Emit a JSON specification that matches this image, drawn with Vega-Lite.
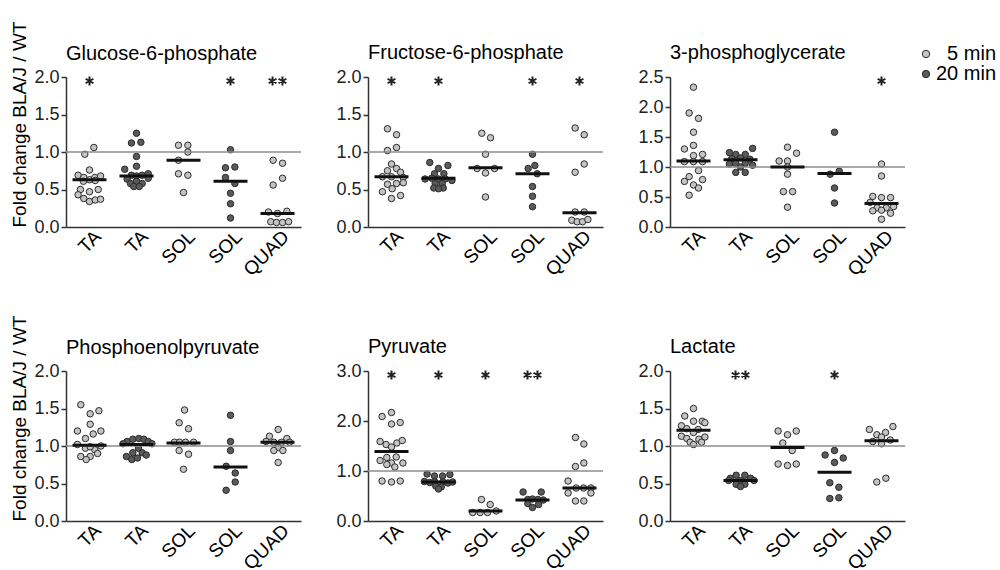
{
"$schema": "https://vega.github.io/schema/vega-lite/v6.json",
"padding": {"left": 10, "top": 21, "right": 5, "bottom": 5},
"background": "white",
"datasets": {
"grp": [{"g":"TA-5","t":"5 min"},{"g":"TA-20","t":"20 min"},{"g":"SOL-5","t":"5 min"},{"g":"SOL-20","t":"20 min"},{"g":"QUAD-5","t":"5 min"}],
"sig": [
{"m":"G6P","g":"TA-5","s":"*"},{"m":"G6P","g":"SOL-20","s":"*"},{"m":"G6P","g":"QUAD-5","s":"**"},
{"m":"F6P","g":"TA-5","s":"*"},{"m":"F6P","g":"TA-20","s":"*"},{"m":"F6P","g":"SOL-20","s":"*"},{"m":"F6P","g":"QUAD-5","s":"*"},
{"m":"3PG","g":"QUAD-5","s":"*"},
{"m":"PYR","g":"TA-5","s":"*"},{"m":"PYR","g":"TA-20","s":"*"},{"m":"PYR","g":"SOL-5","s":"*"},{"m":"PYR","g":"SOL-20","s":"**"},
{"m":"LAC","g":"TA-20","s":"**"},{"m":"LAC","g":"SOL-20","s":"*"}
],
"med": [
{"m":"G6P","g":"TA-5","v":0.63},{"m":"G6P","g":"TA-20","v":0.68},{"m":"G6P","g":"SOL-5","v":0.89},{"m":"G6P","g":"SOL-20","v":0.61},{"m":"G6P","g":"QUAD-5","v":0.18},
{"m":"F6P","g":"TA-5","v":0.67},{"m":"F6P","g":"TA-20","v":0.65},{"m":"F6P","g":"SOL-5","v":0.79},{"m":"F6P","g":"SOL-20","v":0.71},{"m":"F6P","g":"QUAD-5","v":0.19},
{"m":"3PG","g":"TA-5","v":1.10},{"m":"3PG","g":"TA-20","v":1.12},{"m":"3PG","g":"SOL-5","v":1.00},{"m":"3PG","g":"SOL-20","v":0.89},{"m":"3PG","g":"QUAD-5","v":0.39},
{"m":"PEP","g":"TA-5","v":1.01},{"m":"PEP","g":"TA-20","v":1.02},{"m":"PEP","g":"SOL-5","v":1.04},{"m":"PEP","g":"SOL-20","v":0.72},{"m":"PEP","g":"QUAD-5","v":1.05},
{"m":"PYR","g":"TA-5","v":1.39},{"m":"PYR","g":"TA-20","v":0.78},{"m":"PYR","g":"SOL-5","v":0.20},{"m":"PYR","g":"SOL-20","v":0.42},{"m":"PYR","g":"QUAD-5","v":0.66},
{"m":"LAC","g":"TA-5","v":1.21},{"m":"LAC","g":"TA-20","v":0.54},{"m":"LAC","g":"SOL-5","v":0.98},{"m":"LAC","g":"SOL-20","v":0.65},{"m":"LAC","g":"QUAD-5","v":1.07}
],
"pts": [
{"m":"G6P","g":"TA-5","v":1.06,"c":0.65},{"m":"G6P","g":"TA-5","v":0.97,"c":-0.7},{"m":"G6P","g":"TA-5","v":0.76,"c":0},{"m":"G6P","g":"TA-5","v":0.69,"c":-1.7},{"m":"G6P","g":"TA-5","v":0.66,"c":-0.85},{"m":"G6P","g":"TA-5","v":0.63,"c":0},{"m":"G6P","g":"TA-5","v":0.66,"c":0.8},{"m":"G6P","g":"TA-5","v":0.68,"c":1.65},{"m":"G6P","g":"TA-5","v":0.61,"c":-0.9},{"m":"G6P","g":"TA-5","v":0.62,"c":0.85},{"m":"G6P","g":"TA-5","v":0.50,"c":-1.35},{"m":"G6P","g":"TA-5","v":0.50,"c":1.3},{"m":"G6P","g":"TA-5","v":0.47,"c":0},{"m":"G6P","g":"TA-5","v":0.43,"c":-1.7},{"m":"G6P","g":"TA-5","v":0.38,"c":-0.85},{"m":"G6P","g":"TA-5","v":0.34,"c":0},{"m":"G6P","g":"TA-5","v":0.36,"c":0.85},{"m":"G6P","g":"TA-5","v":0.37,"c":1.65},
{"m":"G6P","g":"TA-20","v":1.25,"c":0},{"m":"G6P","g":"TA-20","v":1.12,"c":-0.75},{"m":"G6P","g":"TA-20","v":1.13,"c":0.65},{"m":"G6P","g":"TA-20","v":0.94,"c":0},{"m":"G6P","g":"TA-20","v":0.81,"c":0},{"m":"G6P","g":"TA-20","v":0.77,"c":-1.75},{"m":"G6P","g":"TA-20","v":0.69,"c":-0.75},{"m":"G6P","g":"TA-20","v":0.69,"c":0.85},{"m":"G6P","g":"TA-20","v":0.71,"c":1.75},{"m":"G6P","g":"TA-20","v":0.68,"c":0},{"m":"G6P","g":"TA-20","v":0.64,"c":-1.4},{"m":"G6P","g":"TA-20","v":0.65,"c":1.75},{"m":"G6P","g":"TA-20","v":0.61,"c":0},{"m":"G6P","g":"TA-20","v":0.58,"c":-0.9},{"m":"G6P","g":"TA-20","v":0.58,"c":0.85},{"m":"G6P","g":"TA-20","v":0.54,"c":-0.4},{"m":"G6P","g":"TA-20","v":0.54,"c":0.4},
{"m":"G6P","g":"SOL-5","v":1.09,"c":-0.75},{"m":"G6P","g":"SOL-5","v":1.09,"c":0.65},{"m":"G6P","g":"SOL-5","v":1.00,"c":0.65},{"m":"G6P","g":"SOL-5","v":0.89,"c":-0.75},{"m":"G6P","g":"SOL-5","v":0.71,"c":-0.75},{"m":"G6P","g":"SOL-5","v":0.69,"c":0.65},{"m":"G6P","g":"SOL-5","v":0.46,"c":0},
{"m":"G6P","g":"SOL-20","v":1.03,"c":0},{"m":"G6P","g":"SOL-20","v":0.79,"c":-0.75},{"m":"G6P","g":"SOL-20","v":0.80,"c":0.65},{"m":"G6P","g":"SOL-20","v":0.66,"c":-0.75},{"m":"G6P","g":"SOL-20","v":0.58,"c":0.65},{"m":"G6P","g":"SOL-20","v":0.45,"c":0},{"m":"G6P","g":"SOL-20","v":0.31,"c":0},{"m":"G6P","g":"SOL-20","v":0.12,"c":0},
{"m":"G6P","g":"QUAD-5","v":0.89,"c":-0.65},{"m":"G6P","g":"QUAD-5","v":0.85,"c":0.75},{"m":"G6P","g":"QUAD-5","v":0.65,"c":0.75},{"m":"G6P","g":"QUAD-5","v":0.56,"c":-0.65},{"m":"G6P","g":"QUAD-5","v":0.20,"c":-1.35},{"m":"G6P","g":"QUAD-5","v":0.18,"c":0},{"m":"G6P","g":"QUAD-5","v":0.21,"c":1.4},{"m":"G6P","g":"QUAD-5","v":0.07,"c":-1.0},{"m":"G6P","g":"QUAD-5","v":0.06,"c":-0.15},{"m":"G6P","g":"QUAD-5","v":0.06,"c":0.75},{"m":"G6P","g":"QUAD-5","v":0.07,"c":1.65},

{"m":"F6P","g":"TA-5","v":1.31,"c":-0.6},{"m":"F6P","g":"TA-5","v":1.23,"c":0.75},{"m":"F6P","g":"TA-5","v":1.06,"c":0.75},{"m":"F6P","g":"TA-5","v":1.02,"c":-0.6},{"m":"F6P","g":"TA-5","v":0.84,"c":0},{"m":"F6P","g":"TA-5","v":0.75,"c":-0.6},{"m":"F6P","g":"TA-5","v":0.78,"c":0.75},{"m":"F6P","g":"TA-5","v":0.73,"c":1.35},{"m":"F6P","g":"TA-5","v":0.67,"c":-1.35},{"m":"F6P","g":"TA-5","v":0.67,"c":0},{"m":"F6P","g":"TA-5","v":0.66,"c":1.75},{"m":"F6P","g":"TA-5","v":0.57,"c":-0.6},{"m":"F6P","g":"TA-5","v":0.58,"c":0.75},{"m":"F6P","g":"TA-5","v":0.59,"c":1.75},{"m":"F6P","g":"TA-5","v":0.47,"c":-1.35},{"m":"F6P","g":"TA-5","v":0.51,"c":0.1},{"m":"F6P","g":"TA-5","v":0.38,"c":0},{"m":"F6P","g":"TA-5","v":0.42,"c":1.35},
{"m":"F6P","g":"TA-20","v":0.86,"c":-1.3},{"m":"F6P","g":"TA-20","v":0.78,"c":0},{"m":"F6P","g":"TA-20","v":0.82,"c":1.4},{"m":"F6P","g":"TA-20","v":0.71,"c":-0.6},{"m":"F6P","g":"TA-20","v":0.71,"c":0.8},{"m":"F6P","g":"TA-20","v":0.64,"c":-2.0},{"m":"F6P","g":"TA-20","v":0.65,"c":-1.0},{"m":"F6P","g":"TA-20","v":0.64,"c":0},{"m":"F6P","g":"TA-20","v":0.64,"c":1.0},{"m":"F6P","g":"TA-20","v":0.62,"c":2.0},{"m":"F6P","g":"TA-20","v":0.58,"c":-0.5},{"m":"F6P","g":"TA-20","v":0.58,"c":0.55},{"m":"F6P","g":"TA-20","v":0.52,"c":-0.7},{"m":"F6P","g":"TA-20","v":0.52,"c":0.7},{"m":"F6P","g":"TA-20","v":0.51,"c":0},
{"m":"F6P","g":"SOL-5","v":1.25,"c":-0.55},{"m":"F6P","g":"SOL-5","v":1.19,"c":0.75},{"m":"F6P","g":"SOL-5","v":0.97,"c":0},{"m":"F6P","g":"SOL-5","v":0.78,"c":-1.25},{"m":"F6P","g":"SOL-5","v":0.78,"c":1.35},{"m":"F6P","g":"SOL-5","v":0.72,"c":0},{"m":"F6P","g":"SOL-5","v":0.40,"c":0},
{"m":"F6P","g":"SOL-20","v":0.97,"c":0},{"m":"F6P","g":"SOL-20","v":0.82,"c":0.35},{"m":"F6P","g":"SOL-20","v":0.78,"c":-0.65},{"m":"F6P","g":"SOL-20","v":0.71,"c":0.7},{"m":"F6P","g":"SOL-20","v":0.54,"c":0},{"m":"F6P","g":"SOL-20","v":0.41,"c":0},{"m":"F6P","g":"SOL-20","v":0.27,"c":0},
{"m":"F6P","g":"QUAD-5","v":1.32,"c":-0.65},{"m":"F6P","g":"QUAD-5","v":1.23,"c":0.7},{"m":"F6P","g":"QUAD-5","v":0.84,"c":0.7},{"m":"F6P","g":"QUAD-5","v":0.73,"c":-0.65},{"m":"F6P","g":"QUAD-5","v":0.20,"c":-0.65},{"m":"F6P","g":"QUAD-5","v":0.20,"c":0.7},{"m":"F6P","g":"QUAD-5","v":0.09,"c":-1.15},{"m":"F6P","g":"QUAD-5","v":0.07,"c":-0.35},{"m":"F6P","g":"QUAD-5","v":0.07,"c":0.45},{"m":"F6P","g":"QUAD-5","v":0.10,"c":1.25},

{"m":"3PG","g":"TA-5","v":2.33,"c":0},{"m":"3PG","g":"TA-5","v":1.90,"c":-0.65},{"m":"3PG","g":"TA-5","v":1.81,"c":0.75},{"m":"3PG","g":"TA-5","v":1.58,"c":0},{"m":"3PG","g":"TA-5","v":1.36,"c":0},{"m":"3PG","g":"TA-5","v":1.30,"c":-1.35},{"m":"3PG","g":"TA-5","v":1.19,"c":0},{"m":"3PG","g":"TA-5","v":1.21,"c":1.35},{"m":"3PG","g":"TA-5","v":1.09,"c":-1.35},{"m":"3PG","g":"TA-5","v":1.09,"c":0},{"m":"3PG","g":"TA-5","v":1.09,"c":1.35},{"m":"3PG","g":"TA-5","v":0.94,"c":0.75},{"m":"3PG","g":"TA-5","v":0.84,"c":-0.65},{"m":"3PG","g":"TA-5","v":0.76,"c":-1.35},{"m":"3PG","g":"TA-5","v":0.79,"c":1.35},{"m":"3PG","g":"TA-5","v":0.70,"c":0},{"m":"3PG","g":"TA-5","v":0.65,"c":0.75},{"m":"3PG","g":"TA-5","v":0.53,"c":-0.65},
{"m":"3PG","g":"TA-20","v":1.31,"c":1.8},{"m":"3PG","g":"TA-20","v":1.24,"c":-1.65},{"m":"3PG","g":"TA-20","v":1.21,"c":-0.7},{"m":"3PG","g":"TA-20","v":1.21,"c":0.7},{"m":"3PG","g":"TA-20","v":1.14,"c":-1.3},{"m":"3PG","g":"TA-20","v":1.15,"c":0},{"m":"3PG","g":"TA-20","v":1.13,"c":1.4},{"m":"3PG","g":"TA-20","v":1.05,"c":-1.65},{"m":"3PG","g":"TA-20","v":1.06,"c":-0.7},{"m":"3PG","g":"TA-20","v":1.06,"c":0.7},{"m":"3PG","g":"TA-20","v":1.03,"c":1.8},{"m":"3PG","g":"TA-20","v":1.00,"c":0},{"m":"3PG","g":"TA-20","v":0.91,"c":-0.7},{"m":"3PG","g":"TA-20","v":0.91,"c":0.7},
{"m":"3PG","g":"SOL-5","v":1.33,"c":0},{"m":"3PG","g":"SOL-5","v":1.23,"c":1.35},{"m":"3PG","g":"SOL-5","v":1.10,"c":-1.25},{"m":"3PG","g":"SOL-5","v":1.10,"c":0},{"m":"3PG","g":"SOL-5","v":1.00,"c":0},{"m":"3PG","g":"SOL-5","v":0.88,"c":0},{"m":"3PG","g":"SOL-5","v":0.59,"c":-0.6},{"m":"3PG","g":"SOL-5","v":0.59,"c":0.75},{"m":"3PG","g":"SOL-5","v":0.33,"c":0},
{"m":"3PG","g":"SOL-20","v":1.58,"c":0},{"m":"3PG","g":"SOL-20","v":0.93,"c":0.7},{"m":"3PG","g":"SOL-20","v":0.88,"c":-0.65},{"m":"3PG","g":"SOL-20","v":0.65,"c":0},{"m":"3PG","g":"SOL-20","v":0.40,"c":0},
{"m":"3PG","g":"QUAD-5","v":1.05,"c":0},{"m":"3PG","g":"QUAD-5","v":0.85,"c":0},{"m":"3PG","g":"QUAD-5","v":0.51,"c":-1.3},{"m":"3PG","g":"QUAD-5","v":0.49,"c":0},{"m":"3PG","g":"QUAD-5","v":0.49,"c":1.35},{"m":"3PG","g":"QUAD-5","v":0.41,"c":-1.7},{"m":"3PG","g":"QUAD-5","v":0.32,"c":-0.65},{"m":"3PG","g":"QUAD-5","v":0.32,"c":0.7},{"m":"3PG","g":"QUAD-5","v":0.34,"c":1.8},{"m":"3PG","g":"QUAD-5","v":0.27,"c":-1.3},{"m":"3PG","g":"QUAD-5","v":0.28,"c":0},{"m":"3PG","g":"QUAD-5","v":0.23,"c":1.35},{"m":"3PG","g":"QUAD-5","v":0.13,"c":0},

{"m":"PEP","g":"TA-5","v":1.55,"c":-1.3},{"m":"PEP","g":"TA-5","v":1.43,"c":0.1},{"m":"PEP","g":"TA-5","v":1.47,"c":1.4},{"m":"PEP","g":"TA-5","v":1.29,"c":0.1},{"m":"PEP","g":"TA-5","v":1.20,"c":-1.8},{"m":"PEP","g":"TA-5","v":1.20,"c":1.7},{"m":"PEP","g":"TA-5","v":1.16,"c":0.55},{"m":"PEP","g":"TA-5","v":1.10,"c":-0.6},{"m":"PEP","g":"TA-5","v":1.02,"c":-1.8},{"m":"PEP","g":"TA-5","v":0.97,"c":-0.6},{"m":"PEP","g":"TA-5","v":0.95,"c":0.8},{"m":"PEP","g":"TA-5","v":1.00,"c":1.7},{"m":"PEP","g":"TA-5","v":0.99,"c":0.1},{"m":"PEP","g":"TA-5","v":0.86,"c":-1.3},{"m":"PEP","g":"TA-5","v":0.86,"c":0.1},{"m":"PEP","g":"TA-5","v":0.90,"c":1.2},{"m":"PEP","g":"TA-5","v":0.82,"c":-0.5},
{"m":"PEP","g":"TA-20","v":1.06,"c":-1.4},{"m":"PEP","g":"TA-20","v":1.09,"c":-0.55},{"m":"PEP","g":"TA-20","v":1.10,"c":0.35},{"m":"PEP","g":"TA-20","v":1.09,"c":1.1},{"m":"PEP","g":"TA-20","v":1.06,"c":1.75},{"m":"PEP","g":"TA-20","v":1.03,"c":2.3},{"m":"PEP","g":"TA-20","v":1.03,"c":-2.0},{"m":"PEP","g":"TA-20","v":0.97,"c":0.3},{"m":"PEP","g":"TA-20","v":0.91,"c":-0.55},{"m":"PEP","g":"TA-20","v":0.91,"c":0.85},{"m":"PEP","g":"TA-20","v":0.88,"c":1.45},{"m":"PEP","g":"TA-20","v":0.86,"c":-1.5},{"m":"PEP","g":"TA-20","v":0.82,"c":-0.7},{"m":"PEP","g":"TA-20","v":0.84,"c":0.15},
{"m":"PEP","g":"SOL-5","v":1.48,"c":0.15},{"m":"PEP","g":"SOL-5","v":1.31,"c":-0.65},{"m":"PEP","g":"SOL-5","v":1.23,"c":0.75},{"m":"PEP","g":"SOL-5","v":1.05,"c":-1.35},{"m":"PEP","g":"SOL-5","v":1.05,"c":-0.6},{"m":"PEP","g":"SOL-5","v":1.05,"c":0.3},{"m":"PEP","g":"SOL-5","v":1.05,"c":1.5},{"m":"PEP","g":"SOL-5","v":0.94,"c":-0.65},{"m":"PEP","g":"SOL-5","v":0.89,"c":0.75},{"m":"PEP","g":"SOL-5","v":0.69,"c":0},
{"m":"PEP","g":"SOL-20","v":1.41,"c":0},{"m":"PEP","g":"SOL-20","v":1.06,"c":0},{"m":"PEP","g":"SOL-20","v":0.94,"c":0},{"m":"PEP","g":"SOL-20","v":0.73,"c":-0.65},{"m":"PEP","g":"SOL-20","v":0.64,"c":0.7},{"m":"PEP","g":"SOL-20","v":0.52,"c":0.7},{"m":"PEP","g":"SOL-20","v":0.41,"c":-0.65},
{"m":"PEP","g":"QUAD-5","v":1.22,"c":0.1},{"m":"PEP","g":"QUAD-5","v":1.13,"c":-1.2},{"m":"PEP","g":"QUAD-5","v":1.10,"c":1.4},{"m":"PEP","g":"QUAD-5","v":1.06,"c":-1.7},{"m":"PEP","g":"QUAD-5","v":1.05,"c":-0.55},{"m":"PEP","g":"QUAD-5","v":1.05,"c":0.6},{"m":"PEP","g":"QUAD-5","v":1.05,"c":1.8},{"m":"PEP","g":"QUAD-5","v":0.98,"c":0.1},{"m":"PEP","g":"QUAD-5","v":0.94,"c":-0.55},{"m":"PEP","g":"QUAD-5","v":0.94,"c":0.8},{"m":"PEP","g":"QUAD-5","v":0.78,"c":0.1},

{"m":"PYR","g":"TA-5","v":2.17,"c":0},{"m":"PYR","g":"TA-5","v":2.09,"c":-1.4},{"m":"PYR","g":"TA-5","v":1.94,"c":0},{"m":"PYR","g":"TA-5","v":1.97,"c":1.3},{"m":"PYR","g":"TA-5","v":1.59,"c":-1.7},{"m":"PYR","g":"TA-5","v":1.53,"c":-0.8},{"m":"PYR","g":"TA-5","v":1.48,"c":0},{"m":"PYR","g":"TA-5","v":1.56,"c":0.8},{"m":"PYR","g":"TA-5","v":1.61,"c":1.6},{"m":"PYR","g":"TA-5","v":1.21,"c":-1.7},{"m":"PYR","g":"TA-5","v":1.27,"c":-0.7},{"m":"PYR","g":"TA-5","v":1.16,"c":0},{"m":"PYR","g":"TA-5","v":1.28,"c":0.7},{"m":"PYR","g":"TA-5","v":1.16,"c":1.7},{"m":"PYR","g":"TA-5","v":1.13,"c":-0.7},{"m":"PYR","g":"TA-5","v":1.08,"c":0.5},{"m":"PYR","g":"TA-5","v":0.80,"c":-1.4},{"m":"PYR","g":"TA-5","v":0.78,"c":0},{"m":"PYR","g":"TA-5","v":0.80,"c":1.3},
{"m":"PYR","g":"TA-20","v":0.94,"c":-1.7},{"m":"PYR","g":"TA-20","v":0.90,"c":-0.6},{"m":"PYR","g":"TA-20","v":0.90,"c":0.6},{"m":"PYR","g":"TA-20","v":0.93,"c":1.7},{"m":"PYR","g":"TA-20","v":0.79,"c":-2.1},{"m":"PYR","g":"TA-20","v":0.77,"c":-1.3},{"m":"PYR","g":"TA-20","v":0.78,"c":-0.55},{"m":"PYR","g":"TA-20","v":0.78,"c":0.65},{"m":"PYR","g":"TA-20","v":0.76,"c":1.4},{"m":"PYR","g":"TA-20","v":0.78,"c":2.1},{"m":"PYR","g":"TA-20","v":0.70,"c":-0.4},{"m":"PYR","g":"TA-20","v":0.68,"c":0.4},{"m":"PYR","g":"TA-20","v":0.64,"c":0},
{"m":"PYR","g":"SOL-5","v":0.43,"c":-0.6},{"m":"PYR","g":"SOL-5","v":0.33,"c":0.7},{"m":"PYR","g":"SOL-5","v":0.17,"c":-1.9},{"m":"PYR","g":"SOL-5","v":0.17,"c":-0.8},{"m":"PYR","g":"SOL-5","v":0.17,"c":0.3},{"m":"PYR","g":"SOL-5","v":0.20,"c":1.6},
{"m":"PYR","g":"SOL-20","v":0.58,"c":-1.4},{"m":"PYR","g":"SOL-20","v":0.58,"c":1.3},{"m":"PYR","g":"SOL-20","v":0.43,"c":-0.7},{"m":"PYR","g":"SOL-20","v":0.44,"c":0},{"m":"PYR","g":"SOL-20","v":0.43,"c":0.8},{"m":"PYR","g":"SOL-20","v":0.42,"c":1.6},{"m":"PYR","g":"SOL-20","v":0.35,"c":-0.7},{"m":"PYR","g":"SOL-20","v":0.33,"c":0.9},{"m":"PYR","g":"SOL-20","v":0.27,"c":0},
{"m":"PYR","g":"QUAD-5","v":1.67,"c":-0.6},{"m":"PYR","g":"QUAD-5","v":1.54,"c":0.65},{"m":"PYR","g":"QUAD-5","v":1.09,"c":-0.6},{"m":"PYR","g":"QUAD-5","v":1.16,"c":0.65},{"m":"PYR","g":"QUAD-5","v":0.80,"c":-1.7},{"m":"PYR","g":"QUAD-5","v":0.66,"c":-0.5},{"m":"PYR","g":"QUAD-5","v":0.66,"c":0.6},{"m":"PYR","g":"QUAD-5","v":0.66,"c":1.7},{"m":"PYR","g":"QUAD-5","v":0.56,"c":-1.7},{"m":"PYR","g":"QUAD-5","v":0.56,"c":1.7},{"m":"PYR","g":"QUAD-5","v":0.40,"c":-0.6},{"m":"PYR","g":"QUAD-5","v":0.40,"c":0.65},

{"m":"LAC","g":"TA-5","v":1.50,"c":0},{"m":"LAC","g":"TA-5","v":1.40,"c":-1.3},{"m":"LAC","g":"TA-5","v":1.33,"c":0},{"m":"LAC","g":"TA-5","v":1.33,"c":1.3},{"m":"LAC","g":"TA-5","v":1.27,"c":-1.8},{"m":"LAC","g":"TA-5","v":1.31,"c":1.7},{"m":"LAC","g":"TA-5","v":1.23,"c":-1.0},{"m":"LAC","g":"TA-5","v":1.22,"c":0.7},{"m":"LAC","g":"TA-5","v":1.18,"c":0},{"m":"LAC","g":"TA-5","v":1.13,"c":-1.8},{"m":"LAC","g":"TA-5","v":1.10,"c":-1.0},{"m":"LAC","g":"TA-5","v":1.09,"c":0.8},{"m":"LAC","g":"TA-5","v":1.12,"c":1.7},{"m":"LAC","g":"TA-5","v":1.05,"c":-0.5},{"m":"LAC","g":"TA-5","v":1.02,"c":0},{"m":"LAC","g":"TA-5","v":1.05,"c":1.2},
{"m":"LAC","g":"TA-20","v":0.57,"c":-1.5},{"m":"LAC","g":"TA-20","v":0.61,"c":-0.65},{"m":"LAC","g":"TA-20","v":0.61,"c":0.65},{"m":"LAC","g":"TA-20","v":0.57,"c":1.5},{"m":"LAC","g":"TA-20","v":0.54,"c":-1.75},{"m":"LAC","g":"TA-20","v":0.54,"c":0},{"m":"LAC","g":"TA-20","v":0.54,"c":2.0},{"m":"LAC","g":"TA-20","v":0.49,"c":-0.65},{"m":"LAC","g":"TA-20","v":0.49,"c":0.65},{"m":"LAC","g":"TA-20","v":0.46,"c":0},
{"m":"LAC","g":"SOL-5","v":1.20,"c":-1.4},{"m":"LAC","g":"SOL-5","v":1.15,"c":0},{"m":"LAC","g":"SOL-5","v":1.20,"c":1.3},{"m":"LAC","g":"SOL-5","v":1.04,"c":-0.7},{"m":"LAC","g":"SOL-5","v":0.94,"c":0.7},{"m":"LAC","g":"SOL-5","v":0.76,"c":-1.4},{"m":"LAC","g":"SOL-5","v":0.74,"c":0},{"m":"LAC","g":"SOL-5","v":0.76,"c":1.3},
{"m":"LAC","g":"SOL-20","v":0.94,"c":0},{"m":"LAC","g":"SOL-20","v":0.88,"c":-1.4},{"m":"LAC","g":"SOL-20","v":0.84,"c":1.3},{"m":"LAC","g":"SOL-20","v":0.78,"c":0},{"m":"LAC","g":"SOL-20","v":0.51,"c":-0.7},{"m":"LAC","g":"SOL-20","v":0.45,"c":0.65},{"m":"LAC","g":"SOL-20","v":0.30,"c":-0.7},{"m":"LAC","g":"SOL-20","v":0.31,"c":0.65},
{"m":"LAC","g":"QUAD-5","v":1.26,"c":1.7},{"m":"LAC","g":"QUAD-5","v":1.22,"c":-1.8},{"m":"LAC","g":"QUAD-5","v":1.15,"c":-0.7},{"m":"LAC","g":"QUAD-5","v":1.18,"c":0.6},{"m":"LAC","g":"QUAD-5","v":1.12,"c":0},{"m":"LAC","g":"QUAD-5","v":1.06,"c":-1.3},{"m":"LAC","g":"QUAD-5","v":1.08,"c":1.3},{"m":"LAC","g":"QUAD-5","v":1.03,"c":0},{"m":"LAC","g":"QUAD-5","v":0.52,"c":-0.7},{"m":"LAC","g":"QUAD-5","v":0.57,"c":0.65}
]
},
"bounds": "flush",
"spacing": 294,
"vconcat": [
{"bounds": "flush", "spacing": 67, "hconcat": [
{"width": 235, "height": 150, "title": {"text": "Glucose-6-phosphate", "offset": -43},
 "layer": [
  {"data": {"name": "pts"}, "transform": [{"filter": "datum.m == 'G6P'"}, {"lookup": "g", "from": {"data": {"name": "grp"}, "key": "g", "fields": ["t"]}}],
   "mark": {"type": "circle", "size": 42, "opacity": 1, "stroke": "#2b2b2b", "strokeWidth": 1},
   "encoding": {"x": {"field": "g", "type": "nominal", "title": null, "scale": {"domain": ["TA-5","TA-20","SOL-5","SOL-20","QUAD-5"], "paddingInner": 0, "paddingOuter": 0}},
     "y": {"field": "v", "type": "quantitative", "title": "Fold change BLA/J / WT", "scale": {"domain": [0, 2], "nice": false}, "axis": {"values": [0, 0.5, 1, 1.5, 2], "format": ".1f", "titleAnchor": "start"}},
     "xOffset": {"field": "c", "type": "quantitative", "scale": {"domain": [-3.5, 3.5]}},
     "fill": {"field": "t", "type": "nominal", "scale": {"domain": ["5 min", "20 min"], "range": ["#c4c4c4", "#5a5a5a"]}, "legend": {"title": null, "orient": "none", "legendX": 850, "legendY": -33, "labelExpr": "datum.label == '5 min' ? '\u200b\u2007' + datum.label : datum.label"}}}},
  {"data": {"values": [{}]}, "mark": {"type": "rule", "color": "#8c8c8c", "strokeWidth": 1.5}, "encoding": {"y": {"datum": 1, "title": "Fold change BLA/J / WT", "axis": {"values": [0, 0.5, 1, 1.5, 2], "format": ".1f", "titleAnchor": "start"}}}},
  {"data": {"name": "med"}, "transform": [{"filter": "datum.m == 'G6P'"}], "mark": {"type": "tick", "orient": "horizontal", "size": 34, "thickness": 3, "color": "#111", "opacity": 1},
   "encoding": {"x": {"field": "g", "type": "nominal", "title": null, "scale": {"domain": ["TA-5","TA-20","SOL-5","SOL-20","QUAD-5"], "paddingInner": 0, "paddingOuter": 0}},
     "y": {"field": "v", "type": "quantitative", "title": "Fold change BLA/J / WT", "axis": {"values": [0, 0.5, 1, 1.5, 2], "format": ".1f", "titleAnchor": "start"}}}},
  {"data": {"name": "sig"}, "transform": [{"filter": "datum.m == 'G6P'"}], "mark": {"type": "point", "filled": false, "stroke": "#222", "strokeWidth": 2, "size": 81, "opacity": 1, "yOffset": 4},
   "encoding": {"x": {"field": "g", "type": "nominal", "title": null, "scale": {"domain": ["TA-5","TA-20","SOL-5","SOL-20","QUAD-5"], "paddingInner": 0, "paddingOuter": 0}}, "y": {"datum": 2, "title": "Fold change BLA/J / WT", "axis": {"values": [0, 0.5, 1, 1.5, 2], "format": ".1f", "titleAnchor": "start"}},
     "shape": {"field": "s", "type": "nominal", "legend": null, "scale": {"domain": ["*", "**"], "range": ["M0,-1L0,1M-0.87,-0.5L0.87,0.5M-0.87,0.5L0.87,-0.5", "M-1.1,-1L-1.1,1M-1.97,-0.5L-0.23,0.5M-1.97,0.5L-0.23,-0.5M1.1,-1L1.1,1M0.23,-0.5L1.97,0.5M0.23,0.5L1.97,-0.5"]}}}}
 ]},
{"width": 235, "height": 150, "title": {"text": "Fructose-6-phosphate", "offset": 5},
 "layer": [
  {"data": {"name": "pts"}, "transform": [{"filter": "datum.m == 'F6P'"}, {"lookup": "g", "from": {"data": {"name": "grp"}, "key": "g", "fields": ["t"]}}],
   "mark": {"type": "circle", "size": 42, "opacity": 1, "stroke": "#2b2b2b", "strokeWidth": 1},
   "encoding": {"x": {"field": "g", "type": "nominal", "title": null, "scale": {"domain": ["TA-5","TA-20","SOL-5","SOL-20","QUAD-5"], "paddingInner": 0, "paddingOuter": 0}},
     "y": {"field": "v", "type": "quantitative", "title": null, "scale": {"domain": [0, 2], "nice": false}, "axis": {"values": [0, 0.5, 1, 1.5, 2], "format": ".1f"}},
     "xOffset": {"field": "c", "type": "quantitative", "scale": {"domain": [-3.5, 3.5]}},
     "fill": {"field": "t", "type": "nominal", "scale": {"domain": ["5 min", "20 min"], "range": ["#c4c4c4", "#5a5a5a"]}, "legend": {"title": null, "orient": "none", "legendX": 850, "legendY": -33, "labelExpr": "datum.label == '5 min' ? '\u200b\u2007' + datum.label : datum.label"}}}},
  {"data": {"values": [{}]}, "mark": {"type": "rule", "color": "#8c8c8c", "strokeWidth": 1.5}, "encoding": {"y": {"datum": 1, "title": null, "axis": {"values": [0, 0.5, 1, 1.5, 2], "format": ".1f"}}}},
  {"data": {"name": "med"}, "transform": [{"filter": "datum.m == 'F6P'"}], "mark": {"type": "tick", "orient": "horizontal", "size": 34, "thickness": 3, "color": "#111", "opacity": 1},
   "encoding": {"x": {"field": "g", "type": "nominal", "title": null, "scale": {"domain": ["TA-5","TA-20","SOL-5","SOL-20","QUAD-5"], "paddingInner": 0, "paddingOuter": 0}},
     "y": {"field": "v", "type": "quantitative", "title": null, "axis": {"values": [0, 0.5, 1, 1.5, 2], "format": ".1f"}}}},
  {"data": {"name": "sig"}, "transform": [{"filter": "datum.m == 'F6P'"}], "mark": {"type": "point", "filled": false, "stroke": "#222", "strokeWidth": 2, "size": 81, "opacity": 1, "yOffset": 4},
   "encoding": {"x": {"field": "g", "type": "nominal", "title": null, "scale": {"domain": ["TA-5","TA-20","SOL-5","SOL-20","QUAD-5"], "paddingInner": 0, "paddingOuter": 0}}, "y": {"datum": 2, "title": null, "axis": {"values": [0, 0.5, 1, 1.5, 2], "format": ".1f"}},
     "shape": {"field": "s", "type": "nominal", "legend": null, "scale": {"domain": ["*", "**"], "range": ["M0,-1L0,1M-0.87,-0.5L0.87,0.5M-0.87,0.5L0.87,-0.5", "M-1.1,-1L-1.1,1M-1.97,-0.5L-0.23,0.5M-1.97,0.5L-0.23,-0.5M1.1,-1L1.1,1M0.23,-0.5L1.97,0.5M0.23,0.5L1.97,-0.5"]}}}}
 ]},
{"width": 235, "height": 150, "title": {"text": "3-phosphoglycerate", "offset": 5},
 "layer": [
  {"data": {"name": "pts"}, "transform": [{"filter": "datum.m == '3PG'"}, {"lookup": "g", "from": {"data": {"name": "grp"}, "key": "g", "fields": ["t"]}}],
   "mark": {"type": "circle", "size": 42, "opacity": 1, "stroke": "#2b2b2b", "strokeWidth": 1},
   "encoding": {"x": {"field": "g", "type": "nominal", "title": null, "scale": {"domain": ["TA-5","TA-20","SOL-5","SOL-20","QUAD-5"], "paddingInner": 0, "paddingOuter": 0}},
     "y": {"field": "v", "type": "quantitative", "title": null, "scale": {"domain": [0, 2.5], "nice": false}, "axis": {"values": [0, 0.5, 1, 1.5, 2, 2.5], "format": ".1f"}},
     "xOffset": {"field": "c", "type": "quantitative", "scale": {"domain": [-3.5, 3.5]}},
     "fill": {"field": "t", "type": "nominal", "scale": {"domain": ["5 min", "20 min"], "range": ["#c4c4c4", "#5a5a5a"]}, "legend": {"title": null, "orient": "none", "legendX": 850, "legendY": -33, "labelExpr": "datum.label == '5 min' ? '\u200b\u2007' + datum.label : datum.label"}}}},
  {"data": {"values": [{}]}, "mark": {"type": "rule", "color": "#8c8c8c", "strokeWidth": 1.5}, "encoding": {"y": {"datum": 1, "title": null, "axis": {"values": [0, 0.5, 1, 1.5, 2, 2.5], "format": ".1f"}}}},
  {"data": {"name": "med"}, "transform": [{"filter": "datum.m == '3PG'"}], "mark": {"type": "tick", "orient": "horizontal", "size": 34, "thickness": 3, "color": "#111", "opacity": 1},
   "encoding": {"x": {"field": "g", "type": "nominal", "title": null, "scale": {"domain": ["TA-5","TA-20","SOL-5","SOL-20","QUAD-5"], "paddingInner": 0, "paddingOuter": 0}},
     "y": {"field": "v", "type": "quantitative", "title": null, "axis": {"values": [0, 0.5, 1, 1.5, 2, 2.5], "format": ".1f"}}}},
  {"data": {"name": "sig"}, "transform": [{"filter": "datum.m == '3PG'"}], "mark": {"type": "point", "filled": false, "stroke": "#222", "strokeWidth": 2, "size": 81, "opacity": 1, "yOffset": 4},
   "encoding": {"x": {"field": "g", "type": "nominal", "title": null, "scale": {"domain": ["TA-5","TA-20","SOL-5","SOL-20","QUAD-5"], "paddingInner": 0, "paddingOuter": 0}}, "y": {"datum": 2.5, "title": null, "axis": {"values": [0, 0.5, 1, 1.5, 2, 2.5], "format": ".1f"}},
     "shape": {"field": "s", "type": "nominal", "legend": null, "scale": {"domain": ["*", "**"], "range": ["M0,-1L0,1M-0.87,-0.5L0.87,0.5M-0.87,0.5L0.87,-0.5", "M-1.1,-1L-1.1,1M-1.97,-0.5L-0.23,0.5M-1.97,0.5L-0.23,-0.5M1.1,-1L1.1,1M0.23,-0.5L1.97,0.5M0.23,0.5L1.97,-0.5"]}}}}
 ]}
]},
{"bounds": "flush", "spacing": 67, "hconcat": [
{"width": 235, "height": 150, "title": {"text": "Phosphoenolpyruvate", "offset": -43},
 "layer": [
  {"data": {"name": "pts"}, "transform": [{"filter": "datum.m == 'PEP'"}, {"lookup": "g", "from": {"data": {"name": "grp"}, "key": "g", "fields": ["t"]}}],
   "mark": {"type": "circle", "size": 42, "opacity": 1, "stroke": "#2b2b2b", "strokeWidth": 1},
   "encoding": {"x": {"field": "g", "type": "nominal", "title": null, "scale": {"domain": ["TA-5","TA-20","SOL-5","SOL-20","QUAD-5"], "paddingInner": 0, "paddingOuter": 0}},
     "y": {"field": "v", "type": "quantitative", "title": "Fold change BLA/J / WT", "scale": {"domain": [0, 2], "nice": false}, "axis": {"values": [0, 0.5, 1, 1.5, 2], "format": ".1f", "titleAnchor": "start"}},
     "xOffset": {"field": "c", "type": "quantitative", "scale": {"domain": [-3.5, 3.5]}},
     "fill": {"field": "t", "type": "nominal", "scale": {"domain": ["5 min", "20 min"], "range": ["#c4c4c4", "#5a5a5a"]}, "legend": {"title": null, "orient": "none", "legendX": 850, "legendY": -33, "labelExpr": "datum.label == '5 min' ? '\u200b\u2007' + datum.label : datum.label"}}}},
  {"data": {"values": [{}]}, "mark": {"type": "rule", "color": "#8c8c8c", "strokeWidth": 1.5}, "encoding": {"y": {"datum": 1, "title": "Fold change BLA/J / WT", "axis": {"values": [0, 0.5, 1, 1.5, 2], "format": ".1f", "titleAnchor": "start"}}}},
  {"data": {"name": "med"}, "transform": [{"filter": "datum.m == 'PEP'"}], "mark": {"type": "tick", "orient": "horizontal", "size": 34, "thickness": 3, "color": "#111", "opacity": 1},
   "encoding": {"x": {"field": "g", "type": "nominal", "title": null, "scale": {"domain": ["TA-5","TA-20","SOL-5","SOL-20","QUAD-5"], "paddingInner": 0, "paddingOuter": 0}},
     "y": {"field": "v", "type": "quantitative", "title": "Fold change BLA/J / WT", "axis": {"values": [0, 0.5, 1, 1.5, 2], "format": ".1f", "titleAnchor": "start"}}}}
 ]},
{"width": 235, "height": 150, "title": {"text": "Pyruvate", "offset": 5},
 "layer": [
  {"data": {"name": "pts"}, "transform": [{"filter": "datum.m == 'PYR'"}, {"lookup": "g", "from": {"data": {"name": "grp"}, "key": "g", "fields": ["t"]}}],
   "mark": {"type": "circle", "size": 42, "opacity": 1, "stroke": "#2b2b2b", "strokeWidth": 1},
   "encoding": {"x": {"field": "g", "type": "nominal", "title": null, "scale": {"domain": ["TA-5","TA-20","SOL-5","SOL-20","QUAD-5"], "paddingInner": 0, "paddingOuter": 0}},
     "y": {"field": "v", "type": "quantitative", "title": null, "scale": {"domain": [0, 3], "nice": false}, "axis": {"values": [0, 1, 2, 3], "format": ".1f"}},
     "xOffset": {"field": "c", "type": "quantitative", "scale": {"domain": [-3.5, 3.5]}},
     "fill": {"field": "t", "type": "nominal", "scale": {"domain": ["5 min", "20 min"], "range": ["#c4c4c4", "#5a5a5a"]}, "legend": {"title": null, "orient": "none", "legendX": 850, "legendY": -33, "labelExpr": "datum.label == '5 min' ? '\u200b\u2007' + datum.label : datum.label"}}}},
  {"data": {"values": [{}]}, "mark": {"type": "rule", "color": "#8c8c8c", "strokeWidth": 1.5}, "encoding": {"y": {"datum": 1, "title": null, "axis": {"values": [0, 1, 2, 3], "format": ".1f"}}}},
  {"data": {"name": "med"}, "transform": [{"filter": "datum.m == 'PYR'"}], "mark": {"type": "tick", "orient": "horizontal", "size": 34, "thickness": 3, "color": "#111", "opacity": 1},
   "encoding": {"x": {"field": "g", "type": "nominal", "title": null, "scale": {"domain": ["TA-5","TA-20","SOL-5","SOL-20","QUAD-5"], "paddingInner": 0, "paddingOuter": 0}},
     "y": {"field": "v", "type": "quantitative", "title": null, "axis": {"values": [0, 1, 2, 3], "format": ".1f"}}}},
  {"data": {"name": "sig"}, "transform": [{"filter": "datum.m == 'PYR'"}], "mark": {"type": "point", "filled": false, "stroke": "#222", "strokeWidth": 2, "size": 81, "opacity": 1, "yOffset": 4},
   "encoding": {"x": {"field": "g", "type": "nominal", "title": null, "scale": {"domain": ["TA-5","TA-20","SOL-5","SOL-20","QUAD-5"], "paddingInner": 0, "paddingOuter": 0}}, "y": {"datum": 3, "title": null, "axis": {"values": [0, 1, 2, 3], "format": ".1f"}},
     "shape": {"field": "s", "type": "nominal", "legend": null, "scale": {"domain": ["*", "**"], "range": ["M0,-1L0,1M-0.87,-0.5L0.87,0.5M-0.87,0.5L0.87,-0.5", "M-1.1,-1L-1.1,1M-1.97,-0.5L-0.23,0.5M-1.97,0.5L-0.23,-0.5M1.1,-1L1.1,1M0.23,-0.5L1.97,0.5M0.23,0.5L1.97,-0.5"]}}}}
 ]},
{"width": 235, "height": 150, "title": {"text": "Lactate", "offset": 5},
 "layer": [
  {"data": {"name": "pts"}, "transform": [{"filter": "datum.m == 'LAC'"}, {"lookup": "g", "from": {"data": {"name": "grp"}, "key": "g", "fields": ["t"]}}],
   "mark": {"type": "circle", "size": 42, "opacity": 1, "stroke": "#2b2b2b", "strokeWidth": 1},
   "encoding": {"x": {"field": "g", "type": "nominal", "title": null, "scale": {"domain": ["TA-5","TA-20","SOL-5","SOL-20","QUAD-5"], "paddingInner": 0, "paddingOuter": 0}},
     "y": {"field": "v", "type": "quantitative", "title": null, "scale": {"domain": [0, 2], "nice": false}, "axis": {"values": [0, 0.5, 1, 1.5, 2], "format": ".1f"}},
     "xOffset": {"field": "c", "type": "quantitative", "scale": {"domain": [-3.5, 3.5]}},
     "fill": {"field": "t", "type": "nominal", "scale": {"domain": ["5 min", "20 min"], "range": ["#c4c4c4", "#5a5a5a"]}, "legend": {"title": null, "orient": "none", "legendX": 850, "legendY": -33, "labelExpr": "datum.label == '5 min' ? '\u200b\u2007' + datum.label : datum.label"}}}},
  {"data": {"values": [{}]}, "mark": {"type": "rule", "color": "#8c8c8c", "strokeWidth": 1.5}, "encoding": {"y": {"datum": 1, "title": null, "axis": {"values": [0, 0.5, 1, 1.5, 2], "format": ".1f"}}}},
  {"data": {"name": "med"}, "transform": [{"filter": "datum.m == 'LAC'"}], "mark": {"type": "tick", "orient": "horizontal", "size": 34, "thickness": 3, "color": "#111", "opacity": 1},
   "encoding": {"x": {"field": "g", "type": "nominal", "title": null, "scale": {"domain": ["TA-5","TA-20","SOL-5","SOL-20","QUAD-5"], "paddingInner": 0, "paddingOuter": 0}},
     "y": {"field": "v", "type": "quantitative", "title": null, "axis": {"values": [0, 0.5, 1, 1.5, 2], "format": ".1f"}}}},
  {"data": {"name": "sig"}, "transform": [{"filter": "datum.m == 'LAC'"}], "mark": {"type": "point", "filled": false, "stroke": "#222", "strokeWidth": 2, "size": 81, "opacity": 1, "yOffset": 4},
   "encoding": {"x": {"field": "g", "type": "nominal", "title": null, "scale": {"domain": ["TA-5","TA-20","SOL-5","SOL-20","QUAD-5"], "paddingInner": 0, "paddingOuter": 0}}, "y": {"datum": 2, "title": null, "axis": {"values": [0, 0.5, 1, 1.5, 2], "format": ".1f"}},
     "shape": {"field": "s", "type": "nominal", "legend": null, "scale": {"domain": ["*", "**"], "range": ["M0,-1L0,1M-0.87,-0.5L0.87,0.5M-0.87,0.5L0.87,-0.5", "M-1.1,-1L-1.1,1M-1.97,-0.5L-0.23,0.5M-1.97,0.5L-0.23,-0.5M1.1,-1L1.1,1M0.23,-0.5L1.97,0.5M0.23,0.5L1.97,-0.5"]}}}}
 ]}
]}
],
"config": {
 "font": "Liberation Sans",
 "view": {"stroke": null},
 "title": {"fontSize": 20, "fontWeight": "normal", "anchor": "start", "frame": "group", "color": "#000"},
 "axisY": {"domainColor": "#333", "domainWidth": 1.5, "tickColor": "#333", "tickWidth": 1.5, "tickSize": 5, "labelFontSize": 18, "labelColor": "#222", "labelPadding": 2, "grid": false, "titleFontSize": 19, "titleFontWeight": "normal", "titleColor": "#000", "titlePadding": 4},
 "axisX": {"domainColor": "#333", "domainWidth": 1.5, "ticks": false, "labelAngle": -45, "labelFontSize": 19, "labelColor": "#000", "labelPadding": 0, "labelOffset": 2, "grid": false, "labelExpr": "split(datum.label, '-')[0]"},
 "legend": {"labelFontSize": 20, "labelColor": "#000", "symbolType": "circle", "symbolSize": 55, "symbolStrokeColor": "#2b2b2b", "symbolStrokeWidth": 1, "labelOffset": 0, "rowPadding": -4}
}
}
